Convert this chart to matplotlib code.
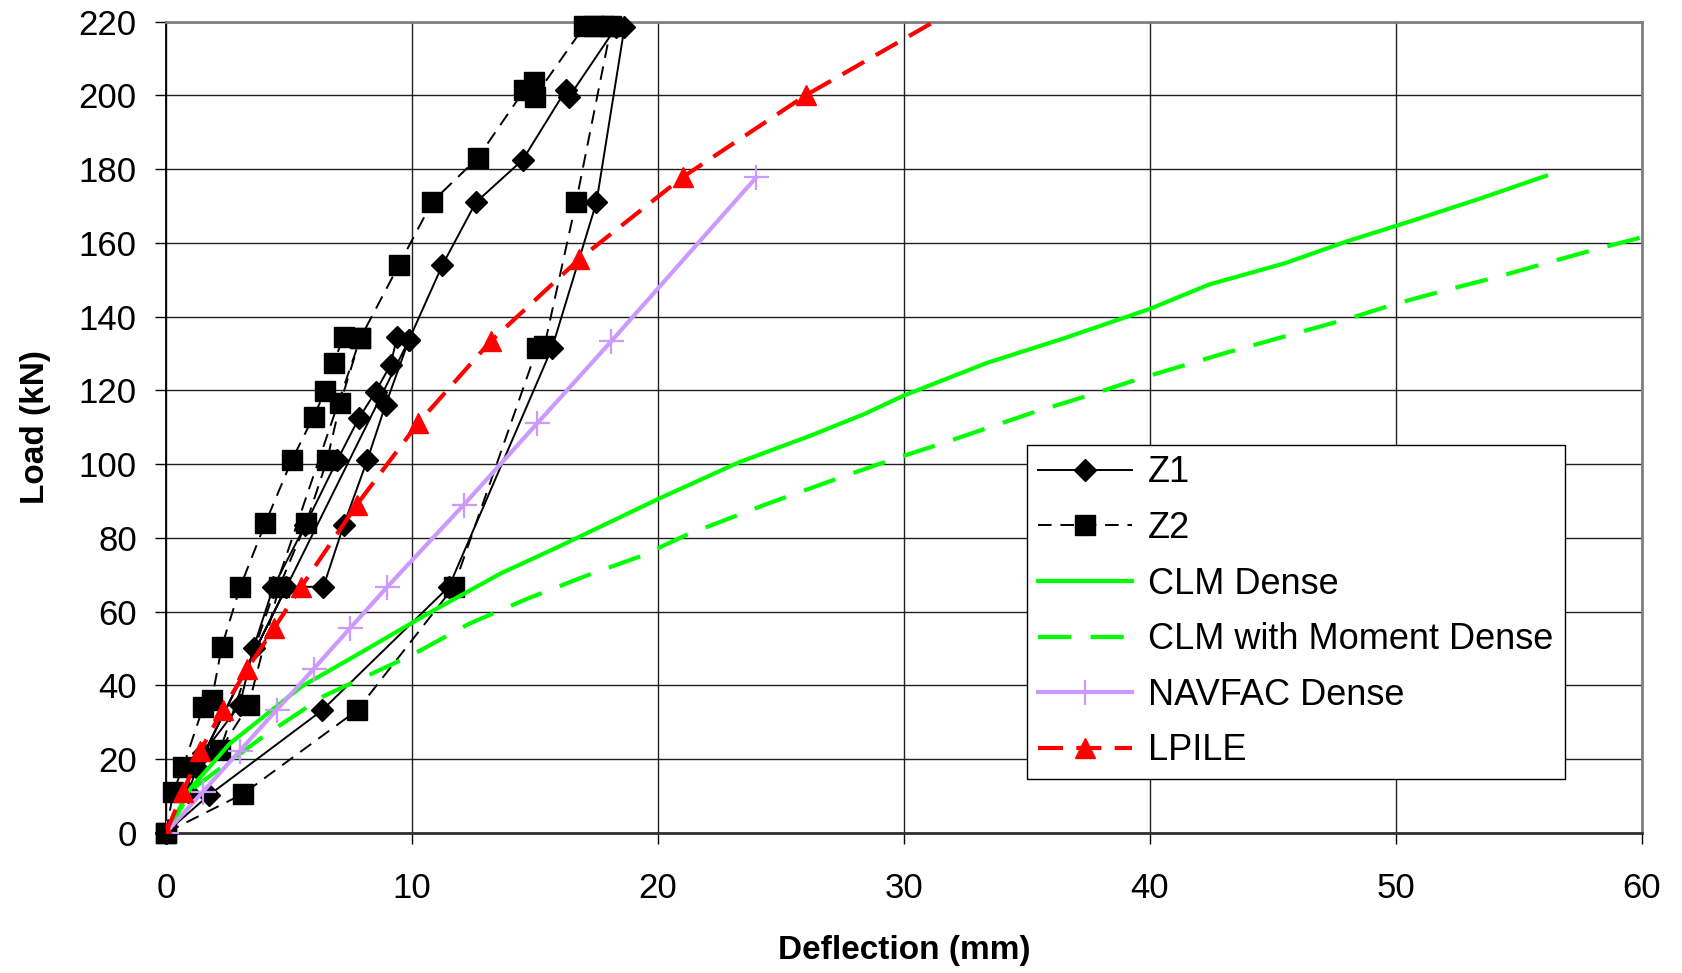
import numpy as np
import matplotlib
matplotlib.use("Agg")
import matplotlib.pyplot as plt

plt.rcParams['font.family'] = ['Liberation Sans', 'DejaVu Sans']

# Z1 test (load-unload cycles)
z1_defl = [0, 0.9, 1.5, 3.0, 3.56, 4.37, 5.67, 6.96, 7.84, 8.52, 9.13, 9.4, 9.88,
           1.25, 4.9, 6.4, 7.23, 8.18, 8.93, 9.88, 11.24, 12.6, 14.5, 16.27, 16.4,
           18.3, 18.64, 17.5, 15.7, 11.5, 6.35, 1.73, 0]
z1_load = [0, 11.1, 21.5, 34.6, 50.2, 66.7, 83.5, 101, 112.4, 119.6, 126.9, 134.6, 133.7,
           17.5, 66.7, 66.7, 83.5, 101, 116.1, 133.7, 154, 171, 182.5, 201.6, 199.7,
           218.5, 218.5, 171, 131.6, 66.7, 33.2, 10.1, 0]

# Z2 test
z2_defl = [0, 0.3, 0.7, 1.52, 1.86, 2.27, 3.02, 4.04, 5.12, 6.0, 6.48, 6.82, 7.23, 7.9,
           2.2, 3.36, 4.6, 5.7, 6.55, 7.09, 7.9, 9.47, 10.83, 12.67, 14.57, 14.97, 15.0,
           17.0, 17.4, 17.8, 18.1, 16.67, 15.38, 15.1, 11.7, 7.77, 3.15, 0]
z2_load = [0, 11.1, 17.9, 34.2, 35.9, 50.5, 66.7, 84.0, 101.1, 112.9, 119.8, 127.5, 134.6, 134.1,
           22.4, 34.6, 66.7, 84.0, 101.1, 116.6, 134.1, 154.0, 171.2, 183.0, 201.5, 203.7, 199.7,
           218.7, 218.7, 218.7, 218.7, 171.0, 131.9, 131.6, 66.7, 33.2, 10.6, 0]

# CLM Dense
clm_defl = [0, 1.0, 2.6, 5.5, 7.7, 10.8, 13.6, 16.0, 20.0, 23.3, 26.2, 28.4, 30.0,
            33.4, 36.5, 40.0, 42.4, 45.5, 48.0, 50.8, 53.5, 56.1]
clm_load = [0, 12.0, 24.2, 39.6, 48.0, 60.0, 70.3, 77.7, 90.5, 100.5, 107.7, 113.6, 118.6,
            127.5, 134.1, 142.1, 148.7, 154.5, 160.4, 166.3, 172.2, 178.2]

# CLM with Moment Dense
clmm_defl = [0, 1.1, 4.0, 6.4, 10.0, 12.3, 14.7, 17.2, 19.3, 21.2, 24.4, 27.6, 29.6, 31.6,
             35.3, 37.5, 39.5, 43.0, 46.0, 48.2, 50.0, 52.1, 54.2, 56.2, 58.2, 60.4, 62.0]
clmm_load = [0, 12.0, 26.3, 37.0, 48.2, 56.6, 63.5, 70.0, 75.0, 80.9, 89.1, 96.8, 101.4, 105.7,
             114.1, 118.6, 123.0, 130.0, 135.6, 139.7, 143.5, 147.3, 150.9, 154.7, 158.4, 162.2, 165.0]

# NAVFAC Dense
nav_defl = [0, 1.5, 3.0, 4.5, 6.0, 7.5, 9.0, 12.1, 15.1, 18.1, 24.0]
nav_load = [0, 11.1, 22.2, 33.3, 44.4, 55.6, 66.7, 88.9, 111.1, 133.3, 177.8]

# LPILE
lp_defl = [0, 0.7, 1.4, 2.3, 3.3, 4.4, 5.5, 7.75, 10.25, 13.2, 16.8, 21.0, 26.0, 31.8]
lp_load = [0, 11.1, 22.2, 33.3, 44.4, 55.5, 66.7, 88.9, 111.1, 133.3, 155.6, 177.8, 200.0, 222.2]

fig = plt.figure(figsize=(16.83, 9.73), dpi=100)
ax = fig.add_axes([0.0986, 0.1442, 0.877, 0.8335])

ax.plot(z1_defl, z1_load, color='black', lw=1.4, marker='D', ms=11,
        label='Z1', clip_on=False, zorder=3)
ax.plot(z2_defl, z2_load, color='black', lw=1.4, ls=(0, (7, 4.5)), marker='s', ms=14,
        label='Z2', clip_on=False, zorder=3)
ax.plot(clm_defl, clm_load, color='#00ff00', lw=3, label='CLM Dense', zorder=4)
ax.plot(clmm_defl, clmm_load, color='#00ff00', lw=3, ls=(0, (8, 4.6)),
        label='CLM with Moment Dense', zorder=4)
ax.plot(nav_defl, nav_load, color='#cc99ff', lw=3, marker='+', ms=18, mew=1.6,
        label='NAVFAC Dense', zorder=5)
ax.plot(lp_defl, lp_load, color='#ff0000', lw=3, ls=(0, (6, 3.2)), marker='^', ms=14,
        markevery=slice(0, -1), label='LPILE', zorder=6)

ax.set_xlim(0, 60)
ax.set_ylim(0, 220)
ax.set_xticks(np.arange(0, 61, 10))
ax.set_yticks(np.arange(0, 221, 20))
ax.grid(True, color='#202020', lw=1.0)
ax.set_axisbelow(True)

ax.tick_params(axis='both', direction='out', length=8, width=1, labelsize=25, color='black')
ax.tick_params(axis='y', pad=13)
ax.tick_params(axis='x', pad=20)
for s in ['top', 'right']:
    ax.spines[s].set_color('#808080')
    ax.spines[s].set_linewidth(2)
ax.spines['left'].set_color('black')
ax.spines['left'].set_linewidth(1.3)
ax.spines['bottom'].set_color('#303030')
ax.spines['bottom'].set_linewidth(2)

ax.set_xlabel('Deflection (mm)', fontsize=24, fontweight='bold', labelpad=22)
ax.set_ylabel('Load (kN)', fontsize=24, fontweight='bold', labelpad=20)

leg = ax.legend(loc='lower left', bbox_to_anchor=(0.5836, 0.066, 0.3641, 0.41), mode='expand',
                fontsize=26, frameon=True, fancybox=False, framealpha=1, edgecolor='black',
                handlelength=2.6, handletextpad=0.45, labelspacing=0.57, borderpad=0.3,
                borderaxespad=0)
leg.get_frame().set_linewidth(1.0)

fig.savefig('out.png', dpi=100)
